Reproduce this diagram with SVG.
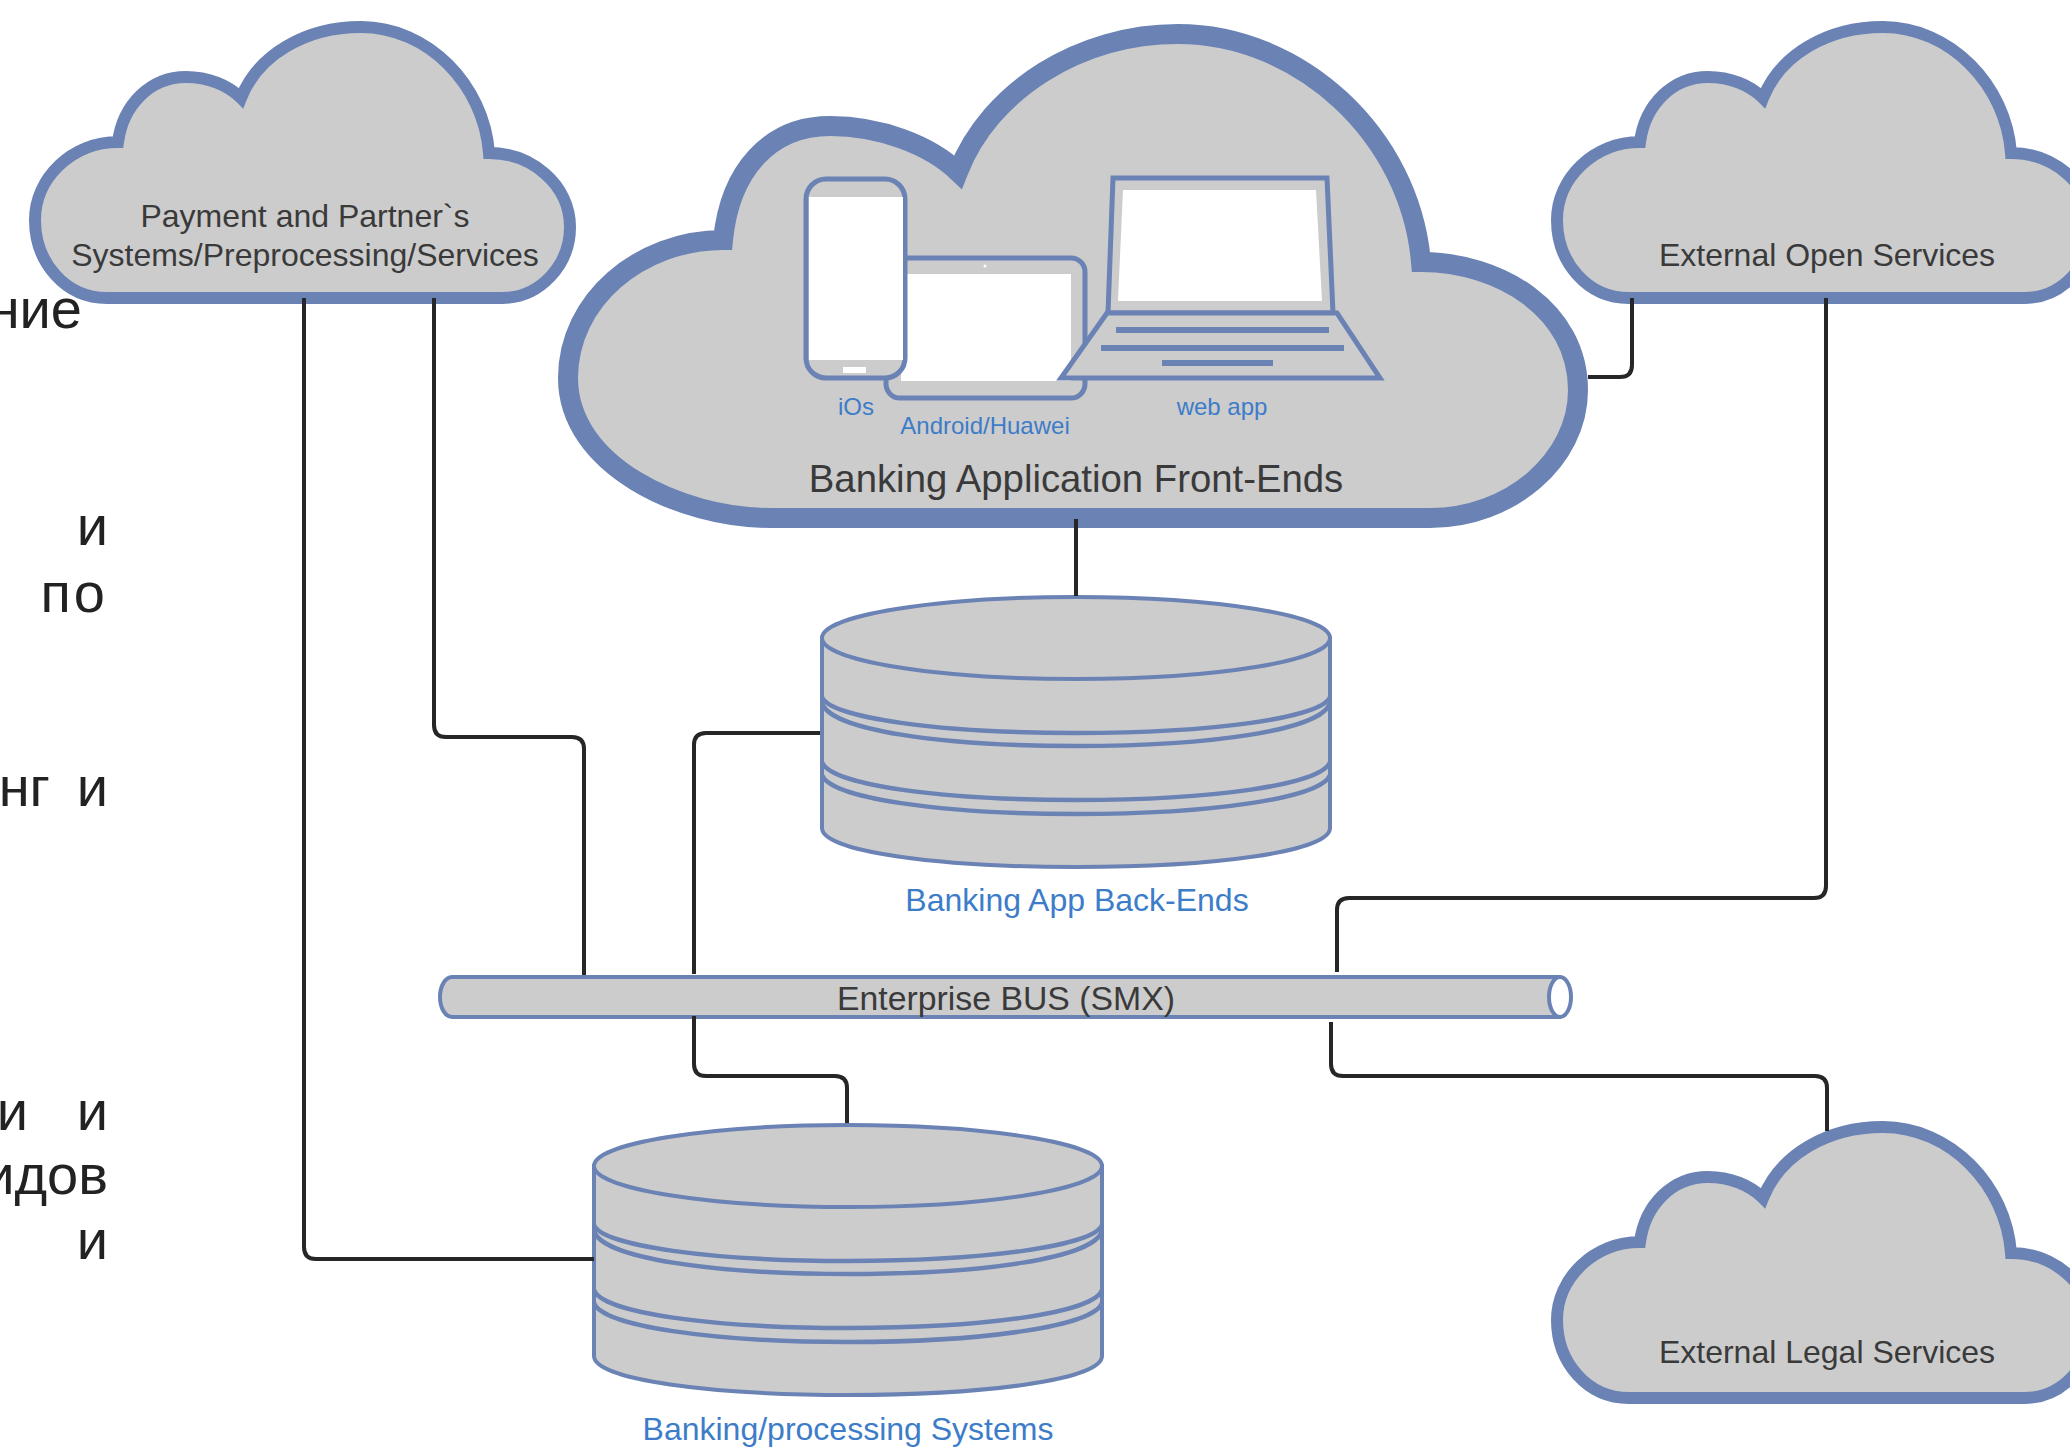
<svg xmlns="http://www.w3.org/2000/svg" width="2070" height="1447" viewBox="0 0 2070 1447">
<style>
.shape{fill:#cccccc;stroke:#6a82b4;stroke-linejoin:miter}
.thin{fill:#cccccc;stroke:#6a82b4;stroke-width:4;stroke-linejoin:round}
.line{fill:none;stroke:#6a82b4;stroke-width:4.5}
.dev{fill:#cccccc;stroke:#6a82b4;stroke-width:5}
.scr{fill:#ffffff;stroke:none}
.bar{fill:none;stroke:#6a82b4;stroke-width:6}
.conn{fill:none;stroke:#262626;stroke-width:4}
text{font-family:"Liberation Sans",Arial,sans-serif;text-anchor:middle}
.dark{fill:#3a3a3a;font-size:32px}
.blue{fill:#3d7cc9;font-size:32px}
.small{fill:#3d7cc9;font-size:24px}
.ru{fill:#222222;font-size:56px;text-anchor:end}
</style>
<defs>
<path id="cloud" d="M107,298 C65,298 35,262 35,220 C35,178 72,142 118,142 C123,105 150,77 186,77 C208,77 228,85 241,98 C258,55 305,27 361,27 C428,27 484,85 489,153 C532,153 570,185 570,227 C570,265 540,298 502,298 Z"/>
<g id="cyl">
<path class="thin" d="M822,638 V828 C822,852 940,867 1076,867 C1212,867 1330,852 1330,828 V638 Z"/>
<path class="line" d="M822,697 C830,718 940,733 1076,733 C1212,733 1322,718 1330,697"/>
<path class="line" d="M822,703 C830,730 940,746 1076,746 C1212,746 1322,730 1330,703"/>
<path class="line" d="M822,762 C830,785 940,800 1076,800 C1212,800 1322,785 1330,762"/>
<path class="line" d="M822,775 C830,798 940,814 1076,814 C1212,814 1322,798 1330,775"/>
<ellipse class="thin" cx="1076" cy="638" rx="254" ry="41"/>
</g>
</defs>
<g id="side-text">
<text class="ru" x="82" y="328">ние</text>
<text class="ru" x="108" y="545">и</text>
<text class="ru" x="108" y="612" letter-spacing="3">по</text>
<text class="ru" x="50" y="806">нг</text>
<text class="ru" x="108" y="806">и</text>
<text class="ru" x="28" y="1130">и</text>
<text class="ru" x="108" y="1130">и</text>
<text class="ru" x="108" y="1194">идов</text>
<text class="ru" x="108" y="1259">и</text>
</g>
<g id="payment-cloud">
<use href="#cloud" class="shape" stroke-width="12"/>
<text class="dark" x="305" y="227">Payment and Partner`s</text>
<text class="dark" x="305" y="266">Systems/Preprocessing/Services</text>
</g>
<g id="open-cloud">
<use href="#cloud" class="shape" stroke-width="12" transform="translate(1522,0)"/>
<text class="dark" x="1827" y="266">External Open Services</text>
</g>
<g id="legal-cloud">
<use href="#cloud" class="shape" stroke-width="12" transform="translate(1522,1100)"/>
<text class="dark" x="1827" y="1363">External Legal Services</text>
</g>
<g id="frontend-cloud">
<path class="shape" stroke-width="20" d="M770,518 C680,518 568,465 568,378 C568,300 640,240 723,240 C730,170 770,126 830,126 C880,126 930,145 958,172 C990,90 1080,34 1178,34 C1300,34 1410,135 1421,262 C1500,262 1578,310 1578,390 C1578,460 1510,518 1430,518 Z"/>
<g id="tablet">
<rect class="dev" x="886" y="258" width="199" height="140" rx="14"/>
<rect class="scr" x="901" y="274" width="170" height="107"/>
<circle cx="985" cy="266" r="1.5" fill="#fff"/>
</g>
<g id="phone">
<rect class="dev" x="806" y="179" width="99" height="199" rx="20"/>
<rect class="scr" x="809" y="197" width="94" height="163"/>
<rect class="scr" x="843" y="367" width="23" height="6"/>
</g>
<g id="laptop">
<path class="dev" d="M1113,178 H1327 L1333,313 H1108 Z"/>
<path class="scr" d="M1123,190 H1316 L1322,301 H1118 Z"/>
<path class="dev" d="M1107,313 H1337 L1380,378 H1061 Z"/>
<path class="bar" d="M1116,330 H1329 M1101,348 H1344 M1162,363 H1273"/>
</g>
<text class="small" x="856" y="415">iOs</text>
<text class="small" x="985" y="434">Android/Huawei</text>
<text class="small" x="1222" y="415">web app</text>
<text class="dark" style="font-size:38.3px" x="1076" y="492">Banking Application Front-Ends</text>
</g>
<g id="backends">
<use href="#cyl"/>
<text class="blue" x="1077" y="911">Banking App Back-Ends</text>
</g>
<g id="systems">
<use href="#cyl" transform="translate(-228,528)"/>
<text class="blue" x="848" y="1440">Banking/processing Systems</text>
</g>
<g id="bus">
<path class="thin" d="M452,977 H1560 V1017 H452 A12,20 0 0 1 452,977 Z"/>
<ellipse cx="1560" cy="997" rx="11" ry="20" fill="#fff" stroke="#6a82b4" stroke-width="4"/>
<text class="dark" style="font-size:33.8px" x="1006" y="1010">Enterprise BUS (SMX)</text>
</g>
<g id="connectors">
<path class="conn" d="M304,298 V1247 Q304,1259 316,1259 H594"/>
<path class="conn" d="M434,298 V725 Q434,737 446,737 H572 Q584,737 584,749 V975"/>
<path class="conn" d="M1076,519 V596"/>
<path class="conn" d="M1588,377 H1620 Q1632,377 1632,365 V298"/>
<path class="conn" d="M820,733 H706 Q694,733 694,745 V974"/>
<path class="conn" d="M694,1016 V1064 Q694,1076 706,1076 H835 Q847,1076 847,1088 V1123"/>
<path class="conn" d="M1826,298 V886 Q1826,898 1814,898 H1349 Q1337,898 1337,910 V972"/>
<path class="conn" d="M1331,1022 V1064 Q1331,1076 1343,1076 H1815 Q1827,1076 1827,1088 V1131"/>
</g>
</svg>
